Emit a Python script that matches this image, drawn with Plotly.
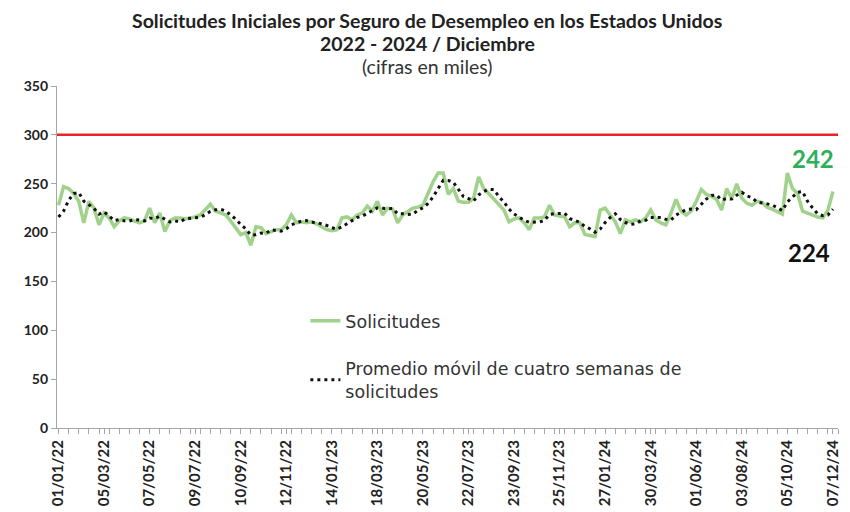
import plotly.graph_objects as go

# Weekly initial claims (thousands), weeks ending 01/01/22 ... 07/12/24
semanas = list(range(154))
solicitudes = [
    228, 247, 245, 240, 232, 210, 232, 225, 208, 220,
    215, 206, 212, 215, 214, 212, 210, 212, 225, 210,
    220, 201, 212, 215, 215, 214, 215, 216, 218, 224,
    229, 222, 220, 218, 212, 205, 198, 200, 187, 206,
    205, 199, 201, 203, 203, 208, 218, 210, 211, 210,
    211, 209, 206, 203, 202, 203, 215, 216, 213, 218,
    220, 227, 222, 232, 218, 225, 224, 210, 218, 222,
    225, 226, 228, 240, 252, 261, 261, 239, 245, 232,
    231, 231, 235, 257, 245, 240, 234, 228, 223, 211,
    214, 215, 210, 203, 215, 215, 216, 228, 218, 217,
    216, 206, 210, 210, 198, 197, 196, 223, 225, 218,
    211, 199, 213, 211, 213, 211, 215, 223, 213, 210,
    208, 220, 234, 222, 218, 222, 232, 244, 239, 237,
    234, 223, 245, 235, 250, 235, 230, 228, 232, 231,
    226, 224, 221, 219, 261, 245, 240, 222, 220, 218,
    216, 215, 223, 242,
]
promedio_movil = [
    216.0, 222.0, 233.0, 240.0, 241.0, 232.0, 228.5, 224.8, 218.8, 221.3,
    217.0, 212.3, 213.3, 212.0, 211.8, 213.3, 212.8, 212.0, 214.8, 214.3,
    216.8, 214.0, 210.8, 212.0, 210.8, 214.0, 214.8, 215.0, 215.8, 218.3,
    221.8, 223.3, 223.8, 222.3, 218.0, 213.8, 208.3, 203.8, 197.5, 197.8,
    199.5, 199.3, 202.8, 202.0, 201.5, 203.8, 208.0, 209.8, 211.8, 212.3,
    210.5, 210.3, 209.0, 207.3, 205.0, 203.5, 205.8, 209.0, 211.8, 215.5,
    216.8, 219.5, 221.8, 225.3, 224.8, 224.3, 224.8, 219.3, 219.3, 218.5,
    218.8, 222.8, 225.3, 229.8, 236.5, 245.3, 253.5, 253.3, 251.5, 244.3,
    236.8, 234.8, 232.3, 238.5, 242.0, 244.3, 244.0, 236.8, 231.3, 224.0,
    219.0, 215.8, 212.5, 210.5, 210.8, 210.8, 212.3, 218.5, 219.3, 219.8,
    219.8, 214.3, 212.3, 210.5, 206.0, 203.8, 200.3, 203.5, 210.3, 215.5,
    219.3, 213.3, 210.3, 208.5, 209.0, 212.0, 212.5, 215.5, 215.5, 215.3,
    213.5, 212.8, 218.0, 221.0, 223.5, 224.0, 223.5, 229.0, 234.3, 238.0,
    238.5, 233.3, 234.8, 234.3, 238.3, 241.3, 237.5, 235.8, 231.3, 230.3,
    229.3, 228.3, 225.5, 222.5, 231.3, 236.5, 241.3, 242.0, 231.8, 225.0,
    219.0, 217.3, 218.0, 224.0,
]
umbral = 300
tick_pos = [0, 9, 18, 27, 36, 45, 54, 63, 72, 81, 90, 99, 108, 117, 126, 135, 144, 153]
tick_labels = ["01/01/22", "05/03/22", "07/05/22", "09/07/22", "10/09/22", "12/11/22",
               "14/01/23", "18/03/23", "20/05/23", "22/07/23", "23/09/23", "25/11/23",
               "27/01/24", "30/03/24", "01/06/24", "03/08/24", "05/10/24", "07/12/24"]

FONT = "Lato"
LEG_FONT = "DejaVu Sans"
fig = go.Figure()
fig.add_trace(go.Scatter(
    x=semanas, y=solicitudes, mode="lines", name="Solicitudes",
    line=dict(color="#a0d28c", width=3.5), legendgroup="a",
))
fig.add_trace(go.Scatter(
    x=semanas, y=promedio_movil, mode="lines",
    name="Promedio móvil de cuatro semanas de<br>solicitudes",
    line=dict(color="#111111", width=3, dash="3px,4px"), legendgroup="b",
))
fig.add_shape(type="line", xref="paper", x0=0, x1=1, yref="y", y0=umbral, y1=umbral,
              line=dict(color="#e8252b", width=2.5))

fig.add_annotation(x=semanas[-1], y=solicitudes[-1], text="<b>242</b>", showarrow=False,
                   xshift=-20, yshift=33, font=dict(family=FONT, size=24, color="#2eaf5b"))
fig.add_annotation(x=semanas[-1], y=promedio_movil[-1], text="<b>224</b>", showarrow=False,
                   xshift=-24, yshift=-43, font=dict(family=FONT, size=24, color="#111111"))

# Titles
fig.add_annotation(xref="paper", yref="paper", x=0.474, y=1.1915, yanchor="middle",
                   text="<b>Solicitudes Iniciales por Seguro de Desempleo en los Estados Unidos</b>",
                   showarrow=False, font=dict(family=FONT, size=19.5, color="#222222"))
fig.add_annotation(xref="paper", yref="paper", x=0.474, y=1.124, yanchor="middle",
                   text="<b>2022 - 2024 / Diciembre</b>",
                   showarrow=False, font=dict(family=FONT, size=19.5, color="#222222"))
fig.add_annotation(xref="paper", yref="paper", x=0.474, y=1.056, yanchor="middle",
                   text="(cifras en miles)",
                   showarrow=False, font=dict(family=FONT, size=19.5, color="#333333"))

# page body has an 8px margin: compensate so plot area sits at x 57-838, y 86-428
fig.update_layout(
    width=842, height=504,
    margin=dict(l=49, r=12, t=78, b=84),
    paper_bgcolor="white", plot_bgcolor="white",
    font=dict(family=FONT, color="#222222"),
    showlegend=True,
    legend=dict(x=0.318, y=0.366, xanchor="left", yanchor="top",
                bgcolor="rgba(0,0,0,0)", font=dict(family=LEG_FONT, size=17.5, color="#333333"),
                tracegroupgap=22, itemwidth=30),
    xaxis=dict(range=[-0.3, 154], tickmode="array", tickvals=tick_pos,
               ticktext=["<b>" + t + "</b>" for t in tick_labels],
               tickangle=-90, tickfont=dict(family=FONT, size=15, color="#222222"),
               showgrid=False, zeroline=False, showline=True, linecolor="#a6a6a6", linewidth=1.2,
               ticks="outside", ticklen=5, tickcolor="#a6a6a6", automargin=False,
               minor=dict(dtick=2, tick0=0, ticks="outside", ticklen=5, tickcolor="#a6a6a6")),
    yaxis=dict(range=[0, 350], tickvals=[0, 50, 100, 150, 200, 250, 300, 350],
               ticktext=["<b>%d</b>" % v for v in [0, 50, 100, 150, 200, 250, 300, 350]],
               tickfont=dict(family=FONT, size=14, color="#222222"), automargin=False,
               showgrid=False, zeroline=False, showline=True, linecolor="#a6a6a6", linewidth=1.2,
               ticks="outside", ticklen=5, tickcolor="#a6a6a6"),
)

fig.write_html("out.html")
